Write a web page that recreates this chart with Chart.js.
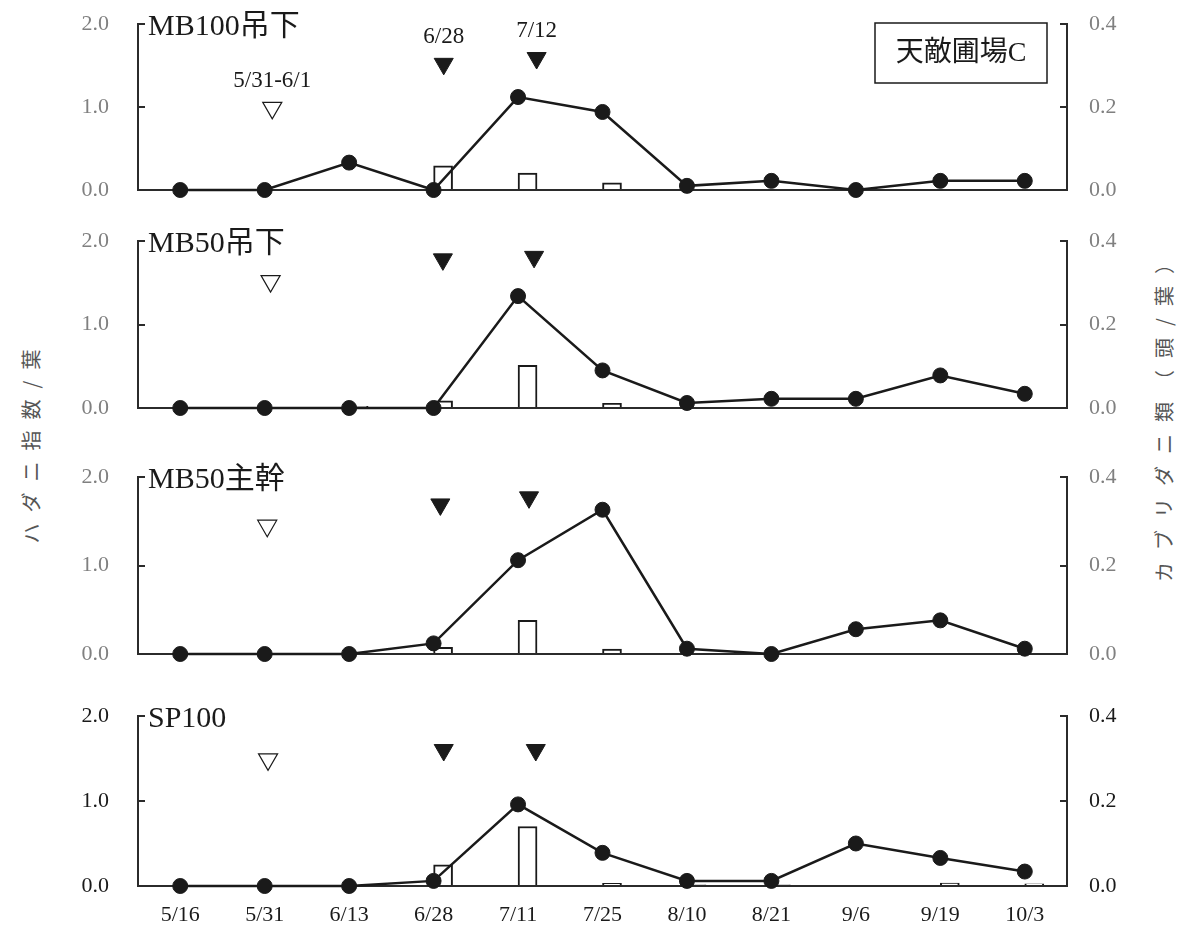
<!DOCTYPE html>
<html>
<head>
<meta charset="utf-8">
<script src="https://cdn.jsdelivr.net/npm/chart.js@4/dist/chart.umd.min.js"></script>
<style>
  html, body { margin: 0; padding: 0; background: #fff; }
  #wrap { position: relative; width: 1178px; height: 928px; overflow: hidden; background: #fff; }
  #wrap canvas { position: absolute; left: 0; }
  .ytitle {
    position: absolute;
    font-family: "Noto Sans CJK JP", sans-serif;
    font-size: 20px;
    color: #555;
    white-space: nowrap;
    transform: translate(-50%, -50%) rotate(-90deg);
  }
</style>
</head>
<body>
<div id="wrap">
  <div class="ytitle" style="left:30px; top:441px; letter-spacing:11px;">ハダニ指数/葉</div>
  <div class="ytitle" style="left:1163px; top:412px; letter-spacing:12px;">カブリダニ類（頭/葉）</div>
</div>
<script>
// Survey dates (x axis)
const dates = ['5/16', '5/31', '6/13', '6/28', '7/11', '7/25', '8/10', '8/21', '9/6', '9/19', '10/3'];

// Treatment names
const panelNames = ['MB100吊下', 'MB50吊下', 'MB50主幹', 'SP100'];

// ハダニ指数 / 葉 (left axis, line)
const miteMB100 = [0, 0, 0.33, 0, 1.12, 0.94, 0.05, 0.11, 0, 0.11, 0.11];
const miteMB50Hang = [0, 0, 0, 0, 1.34, 0.45, 0.06, 0.11, 0.11, 0.39, 0.17];
const miteMB50Trunk = [0, 0, 0, 0.12, 1.06, 1.63, 0.06, 0, 0.28, 0.38, 0.06];
const miteSP100 = [0, 0, 0, 0.06, 0.96, 0.39, 0.06, 0.06, 0.50, 0.33, 0.17];

// カブリダニ類 頭 / 葉 (right axis, bars)
const predMB100 = [0, 0, 0, 0.058, 0.041, 0.017, 0, 0, 0, 0, 0];
const predMB50Hang = [0, 0, 0.004, 0.017, 0.102, 0.011, 0, 0, 0, 0, 0];
const predMB50Trunk = [0, 0, 0, 0.015, 0.076, 0.011, 0, 0, 0, 0, 0];
const predSP100 = [0, 0, 0, 0.05, 0.14, 0.006, 0.003, 0.003, 0, 0.007, 0.005];

// Event markers: position along the date axis (index units) and height on the left axis
const releaseX = [1.09, 1.07, 1.03, 1.04];
const releaseY = [0.99, 1.52, 1.45, 1.49];
const sprayX = [[3.12, 4.22], [3.11, 4.19], [3.08, 4.13], [3.12, 4.21]];
const sprayY = [[1.52, 1.59], [1.78, 1.81], [1.69, 1.77], [1.60, 1.60]];
const markerLabels = ['5/31-6/1', '6/28', '7/12'];

// Axis ranges and tick steps
const leftTicks = [0, 1, 2];
const rightTicks = [0, 0.2, 0.4];
const fieldLabel = '天敵圃場C';

const miteSeries = [miteMB100, miteMB50Hang, miteMB50Trunk, miteSP100];
const predSeries = [predMB100, predMB50Hang, predMB50Trunk, predSP100];

// Plot-area top / bottom for each stacked panel
const panelTops = [24, 241, 477, 716];
const panelBottoms = [190, 408, 654, 886];

const SERIF = '"Liberation Serif", "Noto Sans CJK JP", serif';
const INK = '#1a1a1a';
const AXIS = '#2b2b2b';

const annotate = {
  id: 'annotate',
  afterDatasetsDraw(chart, args, opts) {
    const { ctx, chartArea, scales } = chart;
    ctx.save();
    ctx.fillStyle = INK;
    ctx.textBaseline = 'middle';
    ctx.textAlign = 'left';
    ctx.font = '30px ' + SERIF;
    ctx.fillText(opts.name, chartArea.left + 10, chartArea.top + 3);

    if (opts.first) {
      // date labels above the markers
      ctx.font = '23px ' + SERIF;
      ctx.textAlign = 'center';
      const xs = [releaseX[0], sprayX[0][0], sprayX[0][1]];
      const ys = [releaseY[0], sprayY[0][0], sprayY[0][1]];
      markerLabels.forEach((t, i) => {
        ctx.fillText(t, scales.xt.getPixelForValue(xs[i]), scales.y.getPixelForValue(ys[i]) - 27);
      });
      // field label box
      const bx = chartArea.right - 192, by = chartArea.top - 1, bw = 172, bh = 60;
      ctx.lineWidth = 1.5;
      ctx.strokeStyle = INK;
      ctx.strokeRect(bx, by, bw, bh);
      ctx.font = '28px ' + SERIF;
      ctx.fillText(fieldLabel, bx + bw / 2, by + bh / 2 + 1);
    }
    ctx.restore();
  }
};

const wrap = document.getElementById('wrap');

panelNames.forEach((name, p) => {
  const last = p === panelNames.length - 1;
  const padTop = 30;
  const padBottom = last ? 42 : 20;
  const top = panelTops[p], bottom = panelBottoms[p];
  const canvas = document.createElement('canvas');
  canvas.width = 1178;
  canvas.height = bottom - top + padTop + padBottom;
  canvas.style.top = (top - padTop) + 'px';
  wrap.appendChild(canvas);

  const tickColor = last ? INK : '#808080';

  new Chart(canvas, {
    data: {
      labels: dates,
      datasets: [
        {
          type: 'scatter',
          data: [{ x: releaseX[p], y: releaseY[p] }],
          xAxisID: 'xt', yAxisID: 'y',
          pointStyle: 'triangle', rotation: 180,
          pointRadius: 11, pointBorderWidth: 1.2,
          pointBackgroundColor: '#fff', pointBorderColor: INK,
          clip: false, order: 0
        },
        {
          type: 'scatter',
          data: sprayX[p].map((x, i) => ({ x, y: sprayY[p][i] })),
          xAxisID: 'xt', yAxisID: 'y',
          pointStyle: 'triangle', rotation: 180,
          pointRadius: 11, pointBorderWidth: 1,
          pointBackgroundColor: INK, pointBorderColor: INK,
          clip: false, order: 0
        },
        {
          type: 'line',
          data: miteSeries[p],
          xAxisID: 'x', yAxisID: 'y',
          borderColor: INK, borderWidth: 2.5,
          pointRadius: 7.5, pointBorderWidth: 1,
          pointBackgroundColor: INK, pointBorderColor: INK,
          tension: 0, clip: false, order: 1
        },
        {
          type: 'bar',
          data: predSeries[p],
          xAxisID: 'x', yAxisID: 'y2',
          backgroundColor: '#fff', borderColor: INK, borderWidth: 2,
          barThickness: 19, order: 2
        }
      ]
    },
    options: {
      responsive: false,
      animation: false,
      devicePixelRatio: 1,
      layout: { padding: { top: padTop, bottom: 0, left: 0, right: 0 } },
      plugins: {
        legend: { display: false },
        tooltip: { enabled: false },
        annotate: { name, first: p === 0 }
      },
      scales: {
        x: {
          type: 'category',
          offset: true,
          grid: { display: false, drawTicks: false },
          border: { display: true, color: AXIS, width: 2 },
          ticks: {
            display: last,
            color: INK,
            padding: 16,
            maxRotation: 0,
            autoSkip: false,
            font: { family: SERIF, size: 22 }
          },
          afterFit: s => { s.height = padBottom; s.paddingLeft = 0; s.paddingRight = 0; }
        },
        xt: {
          type: 'linear',
          display: false,
          min: -0.5,
          max: dates.length - 0.5
        },
        y: {
          position: 'left',
          min: leftTicks[0], max: leftTicks[leftTicks.length - 1],
          afterBuildTicks: s => { s.ticks = leftTicks.map(v => ({ value: v })); },
          grid: { display: true, drawOnChartArea: false, drawTicks: true, tickLength: -7, color: AXIS, lineWidth: 2 },
          border: { display: true, color: AXIS, width: 2 },
          ticks: {
            color: tickColor,
            padding: 36,
            font: { family: SERIF, size: 22 },
            callback: v => Number(v).toFixed(1)
          },
          afterFit: s => { s.width = 138; s.paddingTop = 0; s.paddingBottom = 0; }
        },
        y2: {
          position: 'right',
          min: rightTicks[0], max: rightTicks[rightTicks.length - 1],
          afterBuildTicks: s => { s.ticks = rightTicks.map(v => ({ value: v })); },
          grid: { display: true, drawOnChartArea: false, drawTicks: true, tickLength: -7, color: AXIS, lineWidth: 2 },
          border: { display: true, color: AXIS, width: 2 },
          ticks: {
            color: tickColor,
            padding: 29,
            font: { family: SERIF, size: 22 },
            callback: v => Number(v).toFixed(1)
          },
          afterFit: s => { s.width = 111; s.paddingTop = 0; s.paddingBottom = 0; }
        }
      }
    },
    plugins: [annotate]
  });
});
</script>
</body>
</html>
